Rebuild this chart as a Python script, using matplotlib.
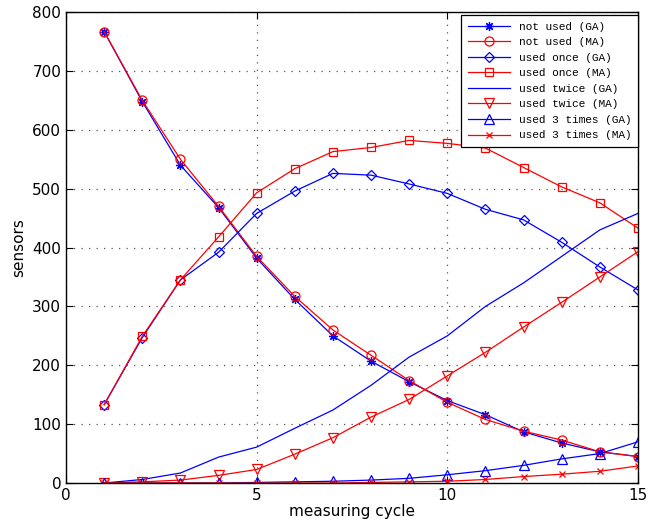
import numpy as np
import matplotlib
matplotlib.use("Agg")
import matplotlib.pyplot as plt

cycle = np.arange(1, 16)

not_used_ga = [767, 648, 540, 468, 382, 312, 250, 207, 172, 140, 116, 87, 68, 53, 45]
not_used_ma = [767, 650, 550, 470, 385, 317, 260, 217, 174, 137, 108, 88, 73, 53, 45]
once_ga = [133, 247, 345, 392, 458, 496, 526, 523, 508, 492, 465, 447, 409, 367, 328]
once_ma = [133, 249, 345, 418, 493, 534, 563, 570, 582, 577, 569, 536, 503, 476, 433]
twice_ga = [0, 6, 17, 44, 61, 93, 124, 166, 214, 250, 300, 340, 385, 430, 458]
twice_ma = [0, 2, 5, 13, 23, 49, 77, 112, 142, 182, 222, 265, 307, 350, 393]
three_ga = [0, 0, 0, 0, 1, 2, 3, 5, 8, 14, 21, 30, 41, 50, 70]
three_ma = [0, 0, 0, 0, 0, 0, 0, 1, 2, 3, 6, 11, 15, 20, 29]

fig = plt.figure(figsize=(6.62, 5.26), dpi=100)
ax = fig.add_axes([0.0997, 0.0817, 0.864, 0.8953])

mk = dict(markersize=6.5, markerfacecolor='none', linewidth=0.9, markeredgewidth=0.9)
ax.plot(cycle, not_used_ga, color='blue', marker=(8, 2, 0), label='not used (GA)', **mk)
ax.plot(cycle, not_used_ma, color='red', marker='o', label='not used (MA)', **mk)
ax.plot(cycle, once_ga, color='blue', marker='D', label='used once (GA)',
        markersize=5.5, markerfacecolor='none', linewidth=0.9, markeredgewidth=0.9)
ax.plot(cycle, once_ma, color='red', marker='s', label='used once (MA)',
        markersize=5.5, markerfacecolor='none', linewidth=0.9, markeredgewidth=0.9)
ax.plot(cycle, twice_ga, color='blue', label='used twice (GA)', linewidth=0.9)
ax.plot(cycle, twice_ma, color='red', marker='v', label='used twice (MA)', **mk)
ax.plot(cycle, three_ga, color='blue', marker='^', label='used 3 times (GA)', **mk)
ax.plot(cycle, three_ma, color='red', marker='x', label='used 3 times (MA)',
        markersize=5, markerfacecolor='none', linewidth=0.9, markeredgewidth=0.9)

ax.set_xlim(0, 15)
ax.set_ylim(0, 800)
ax.set_xticks([0, 5, 10, 15])
ax.set_yticks(range(0, 801, 100))
ax.grid(True, color='#555555', linestyle=(0, (1, 5)), linewidth=0.9)
ax.tick_params(direction='in', top=True, right=True, labelsize=11, length=5)
for s in ax.spines.values():
    s.set_linewidth(1.0)

ax.set_xlabel('measuring cycle', fontsize=11, labelpad=1)
ax.set_ylabel('sensors', fontsize=11, labelpad=4)

leg = ax.legend(loc='upper right', bbox_to_anchor=(1.0, 0.994),
                prop={'family': 'Liberation Mono', 'size': 8},
                fancybox=False, edgecolor='black', framealpha=1, handlelength=3.8,
                borderpad=0.6, labelspacing=0.5, borderaxespad=0.0)
leg.get_frame().set_linewidth(0.9)

fig.savefig('out.png', dpi=100)
